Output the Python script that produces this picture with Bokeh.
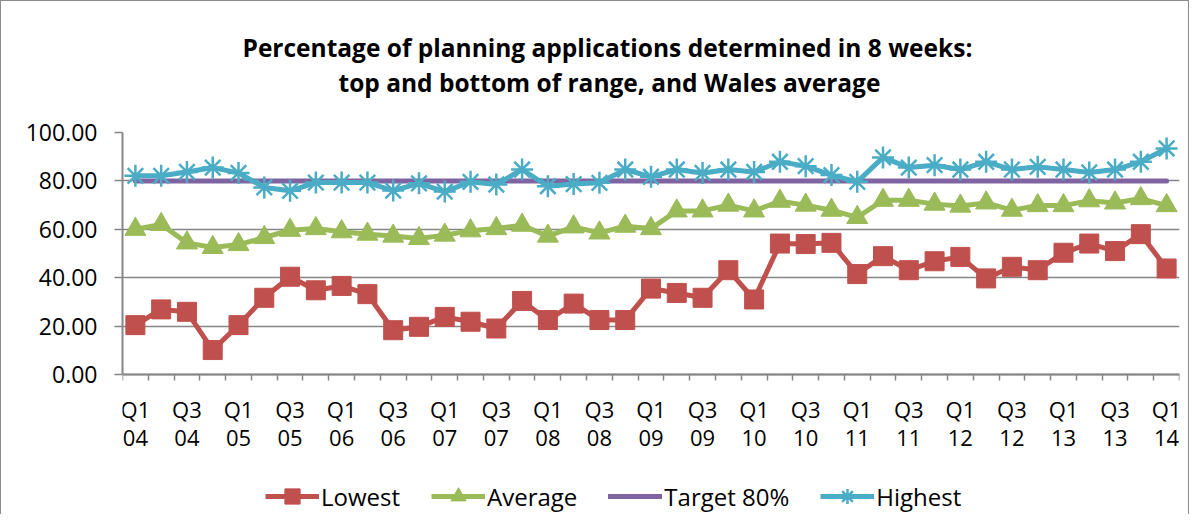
from bokeh.plotting import figure
from bokeh.models import (Range1d, FixedTicker, NumeralTickFormatter, Legend,
                          LegendItem, Title)
from bokeh.embed import file_html
from bokeh.resources import INLINE

# ---------------- data ----------------
quarters = ["Q1 04", "Q2 04", "Q3 04", "Q4 04", "Q1 05", "Q2 05", "Q3 05", "Q4 05",
            "Q1 06", "Q2 06", "Q3 06", "Q4 06", "Q1 07", "Q2 07", "Q3 07", "Q4 07",
            "Q1 08", "Q2 08", "Q3 08", "Q4 08", "Q1 09", "Q2 09", "Q3 09", "Q4 09",
            "Q1 10", "Q2 10", "Q3 10", "Q4 10", "Q1 11", "Q2 11", "Q3 11", "Q4 11",
            "Q1 12", "Q2 12", "Q3 12", "Q4 12", "Q1 13", "Q2 13", "Q3 13", "Q4 13",
            "Q1 14"]

lowest = [20.4, 26.9, 25.9, 10.1, 20.4, 31.7, 40.4, 34.8, 36.6, 33.2,
          18.3, 19.7, 23.8, 21.8, 19.0, 30.4, 22.5, 29.3, 22.5, 22.5,
          35.5, 33.7, 31.7, 43.1, 31.0, 54.1, 53.9, 54.4, 41.5, 48.9,
          43.1, 46.8, 48.6, 39.7, 44.5, 43.1, 50.3, 54.1, 51.0, 58.0, 43.8]

average = [60.0, 62.0, 54.4, 52.5, 53.7, 56.6, 59.6, 60.3, 59.0, 58.0,
           57.2, 56.2, 57.6, 59.4, 60.3, 61.7, 57.2, 61.0, 58.5, 61.3,
           60.3, 67.6, 67.6, 70.0, 67.6, 71.6, 70.0, 67.9, 64.9, 72.0,
           72.0, 70.4, 69.6, 70.9, 67.9, 69.8, 69.8, 71.8, 70.9, 72.7, 69.8]

target = [80.0, 80.0, 80.0, 80.0, 80.0, 80.0, 80.0, 80.0, 80.0, 80.0,
          80.0, 80.0, 80.0, 80.0, 80.0, 80.0, 80.0, 80.0, 80.0, 80.0,
          80.0, 80.0, 80.0, 80.0, 80.0, 80.0, 80.0, 80.0, 80.0, 80.0,
          80.0, 80.0, 80.0, 80.0, 80.0, 80.0, 80.0, 80.0, 80.0, 80.0, 80.0]

highest = [82.1, 82.1, 83.7, 85.5, 83.3, 77.3, 75.9, 79.3, 79.3, 79.3,
           76.0, 79.0, 75.6, 79.6, 78.5, 84.7, 77.8, 78.7, 79.2, 84.7,
           81.7, 84.7, 83.3, 84.7, 83.7, 87.9, 86.1, 82.4, 79.6, 89.7,
           85.5, 86.5, 84.7, 87.9, 84.7, 85.8, 84.7, 83.5, 84.7, 87.9, 93.4]

series_names = ["Lowest", "Average", "Target 80%", "Highest"]
y_ticks = [0, 20, 40, 60, 80, 100]
title_lines = ["Percentage of planning applications determined in 8 weeks:",
               "top and bottom of range, and Wales average"]

# ---------------- layout / styling ----------------
FONT = "Open Sans"
C_LOW, C_AVG, C_TGT, C_HIGH = "#C0504D", "#9BBB59", "#8064A2", "#4BACC6"
GRAY = "#868686"

FRAME_W = 1057          # plot width in px
VALUE_H = 242           # px spanned by 0..100
BELOW_H = 140           # px under the zero line (axis labels + legend)
Y_MIN, Y_MAX = 0, 100

x = list(range(len(quarters)))
n = len(quarters)
px_per_unit = VALUE_H / (Y_MAX - Y_MIN)

p = figure(frame_width=FRAME_W, frame_height=VALUE_H + BELOW_H,
           output_backend="svg", toolbar_location=None, title=None,
           x_range=Range1d(-0.5, n - 0.5),
           y_range=Range1d(Y_MIN - BELOW_H / px_per_unit, Y_MAX),
           min_border_left=121, min_border_right=9, min_border_top=131,
           min_border_bottom=0)
p.styles = {"border-left": "1.5px solid #8c8c8c", "border-top": "1.5px solid #8c8c8c",
            "border-right": "1.5px solid #8c8c8c"}
p.background_fill_color = "white"
p.border_fill_color = "white"
p.outline_line_color = None
p.xgrid.visible = False
p.ygrid.grid_line_color = GRAY
p.ygrid.grid_line_width = 1.5
p.ygrid.ticker = FixedTicker(ticks=y_ticks)

# y axis (only spans the 0..100 value range)
p.yaxis.bounds = (Y_MIN, Y_MAX)
p.yaxis.ticker = FixedTicker(ticks=y_ticks)
p.yaxis.formatter = NumeralTickFormatter(format="0.00")
p.yaxis.axis_line_color = GRAY
p.yaxis.axis_line_width = 2
p.yaxis.major_tick_line_color = GRAY
p.yaxis.major_tick_line_width = 1.5
p.yaxis.major_tick_out = 8
p.yaxis.major_tick_in = 0
p.yaxis.minor_tick_line_color = None
p.yaxis.major_label_standoff = 17
p.yaxis.major_label_text_font = FONT
p.yaxis.major_label_text_font_size = "23px"
p.yaxis.major_label_text_color = "black"

# x axis at the zero line: labels every second quarter, tick marks between categories
label_idx = list(range(0, n, 2))
p.xaxis.fixed_location = Y_MIN
p.xaxis.ticker = FixedTicker(ticks=label_idx,
                             minor_ticks=[i - 0.5 for i in range(n + 1)])
p.xaxis.major_label_overrides = {i: quarters[i].replace(" ", "\n") for i in label_idx}
p.xaxis.axis_line_color = GRAY
p.xaxis.axis_line_width = 2
p.xaxis.major_tick_line_color = None
p.xaxis.major_tick_out = 0
p.xaxis.major_tick_in = 0
p.xaxis.minor_tick_line_color = GRAY
p.xaxis.minor_tick_line_width = 1.5
p.xaxis.minor_tick_out = 6
p.xaxis.minor_tick_in = 0
p.xaxis.major_label_standoff = 13
p.xaxis.major_label_text_font = FONT
p.xaxis.major_label_text_font_size = "22px"
p.xaxis.major_label_text_color = "black"
p.xaxis.major_label_text_line_height = 0.95

# series
r_low_l = p.line(x, lowest, line_color=C_LOW, line_width=5, line_join="round")
r_low_m = p.scatter(x, lowest, marker="square", size=19, fill_color=C_LOW, line_color=C_LOW)
r_avg_l = p.line(x, average, line_color=C_AVG, line_width=5, line_join="round")
r_avg_m = p.scatter(x, average, marker="triangle", size=21, fill_color=C_AVG, line_color=C_AVG)
r_tgt_l = p.line(x, target, line_color=C_TGT, line_width=5, line_cap="round")
r_high_l = p.line(x, highest, line_color=C_HIGH, line_width=5, line_join="round")
r_high_m = p.scatter(x, highest, marker="asterisk", size=22, line_color=C_HIGH, line_width=2.5)

# legend: one row along the bottom
legend = Legend(items=[LegendItem(label=series_names[0], renderers=[r_low_l, r_low_m]),
                       LegendItem(label=series_names[1], renderers=[r_avg_l, r_avg_m]),
                       LegendItem(label=series_names[2], renderers=[r_tgt_l]),
                       LegendItem(label=series_names[3], renderers=[r_high_l, r_high_m])],
                location=(143, -1), orientation="horizontal", nrows=1,
                glyph_width=54, glyph_height=38, label_standoff=2,
                padding=0, margin=0, spacing=31,
                label_text_font=FONT, label_text_font_size="24px",
                label_text_color="black",
                background_fill_alpha=0, border_line_color=None)
p.add_layout(legend)

# title: two lines, stacked above the plot with a spacer next to the frame
p.add_layout(Title(text=" ", text_font=FONT, text_font_size="23.5px", standoff=0), "above")
p.add_layout(Title(text=title_lines[1], align="left", offset=216, standoff=0,
                   text_font=FONT, text_font_style="bold", text_font_size="24.5px",
                   text_color="black"), "above")
p.add_layout(Title(text=title_lines[0], align="left", offset=120, standoff=0,
                   text_font=FONT, text_font_style="bold", text_font_size="24.5px",
                   text_color="black"), "above")

open("out.html", "w").write(file_html(p, INLINE))
